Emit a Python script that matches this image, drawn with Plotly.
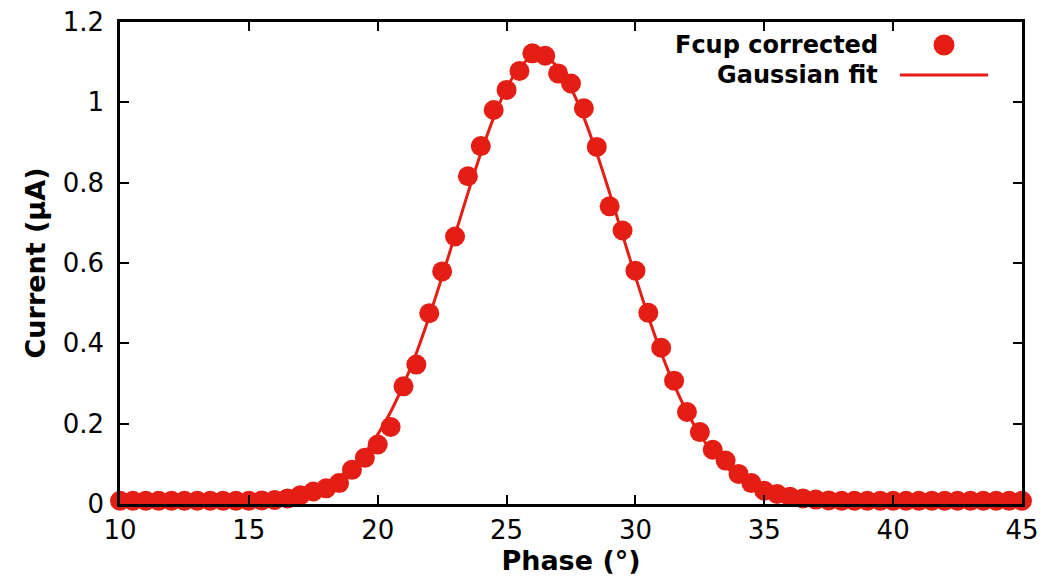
import plotly.graph_objects as go

# ---- data ----
phase = [10.0, 10.5, 11.0, 11.5, 12.0, 12.5, 13.0, 13.5, 14.0, 14.5,
         15.0, 15.5, 16.0, 16.5, 17.0, 17.5, 18.0, 18.5, 19.0, 19.5,
         20.0, 20.5, 21.0, 21.5, 22.0, 22.5, 23.0, 23.5, 24.0, 24.5,
         25.0, 25.5, 26.0, 26.5, 27.0, 27.5, 28.0, 28.5, 29.0, 29.5,
         30.0, 30.5, 31.0, 31.5, 32.0, 32.5, 33.0, 33.5, 34.0, 34.5,
         35.0, 35.5, 36.0, 36.5, 37.0, 37.5, 38.0, 38.5, 39.0, 39.5,
         40.0, 40.5, 41.0, 41.5, 42.0, 42.5, 43.0, 43.5, 44.0, 44.5, 45.0]

fcup_corrected = [0.008, 0.008, 0.008, 0.008, 0.008, 0.008, 0.008, 0.008, 0.008, 0.008,
                  0.008, 0.009, 0.010, 0.014, 0.022, 0.031, 0.039, 0.052, 0.085, 0.115,
                  0.148, 0.192, 0.293, 0.347, 0.475, 0.579, 0.666, 0.816, 0.891, 0.981,
                  1.031, 1.078, 1.122, 1.116, 1.072, 1.047, 0.985, 0.889, 0.741, 0.681,
                  0.581, 0.476, 0.389, 0.307, 0.229, 0.179, 0.135, 0.108, 0.075, 0.052,
                  0.033, 0.025, 0.018, 0.014, 0.011, 0.009, 0.008, 0.008, 0.008, 0.008,
                  0.008, 0.008, 0.008, 0.008, 0.008, 0.008, 0.008, 0.008, 0.008, 0.008, 0.008]

gaussian_fit = [0.008, 0.008, 0.008, 0.008, 0.008, 0.008, 0.008, 0.008, 0.009, 0.009,
                0.010, 0.012, 0.015, 0.019, 0.025, 0.034, 0.048, 0.067, 0.093, 0.128,
                0.173, 0.229, 0.297, 0.376, 0.467, 0.566, 0.670, 0.774, 0.873, 0.962,
                1.035, 1.086, 1.113, 1.113, 1.086, 1.035, 0.962, 0.873, 0.774, 0.670,
                0.566, 0.467, 0.376, 0.297, 0.229, 0.173, 0.128, 0.093, 0.067, 0.048,
                0.034, 0.025, 0.019, 0.015, 0.012, 0.010, 0.009, 0.009, 0.008, 0.008,
                0.008, 0.008, 0.008, 0.008, 0.008, 0.008, 0.008, 0.008, 0.008, 0.008, 0.008]

x_ticks = [10, 15, 20, 25, 30, 35, 40, 45]
y_ticks = [0, 0.2, 0.4, 0.6, 0.8, 1.0, 1.2]
y_tick_text = ["0", "0.2", "0.4", "0.6", "0.8", "1", "1.2"]

RED = "#e41e14"
FONT = "DejaVu Sans"

fig = go.Figure()
fig.add_trace(go.Scatter(
    x=phase, y=fcup_corrected, mode="markers", name="Fcup corrected",
    marker=dict(color=RED, size=20, line=dict(width=0)),
    cliponaxis=False, showlegend=False))
fig.add_trace(go.Scatter(
    x=phase, y=gaussian_fit, mode="lines", name="Gaussian fit",
    line=dict(color=RED, width=3, shape="spline", smoothing=0.8),
    cliponaxis=False, showlegend=False))

# page has an ~8px body margin, so the figure is placed 8px in from top-left
OFF = 8
W, H = 1051 - OFF, 579 - OFF
ml, mr, mt, mb = 120 - OFF, 29, 22 - OFF, 75
pw, ph = W - ml - mr, H - mt - mb

def px2paper(px, py):
    # px, py are window pixel coordinates
    return (px - OFF - ml) / pw, 1 - (py - OFF - mt) / ph

# legend (gnuplot style: text right-aligned, key sample on the right)
legend_items = [("Fcup corrected", 45), ("Gaussian fit", 75)]
annotations = []
for label, py in legend_items:
    ax, ay = px2paper(880, py)
    annotations.append(dict(
        x=ax, y=ay, xref="paper", yref="paper", text=f"<b>{label}</b>",
        showarrow=False, xanchor="right", yanchor="middle",
        font=dict(family=FONT, size=24, color="black")))

cx, cy = px2paper(944, 45)
r = 10.5
shapes = [
    dict(type="circle", xref="paper", yref="paper",
         x0=cx - r / pw, x1=cx + r / pw, y0=cy - r / ph, y1=cy + r / ph,
         fillcolor=RED, line=dict(width=0)),
]
lx0, ly = px2paper(900, 75)
lx1, _ = px2paper(988, 75)
shapes.append(dict(type="line", xref="paper", yref="paper",
                   x0=lx0, x1=lx1, y0=ly, y1=ly,
                   line=dict(color=RED, width=3)))

axis_common = dict(
    showline=True, linecolor="black", linewidth=2.5, mirror="ticks",
    ticks="inside", ticklen=9, tickwidth=2, tickcolor="black",
    showgrid=False, zeroline=False, automargin=False,
    ticklabeloverflow="allow",
    tickfont=dict(family=FONT, size=26, color="black"),
)

fig.update_layout(
    width=W, height=H,
    margin=dict(l=ml, r=mr, t=mt, b=mb),
    paper_bgcolor="white", plot_bgcolor="white",
    font=dict(family=FONT, color="black"),
    xaxis=dict(range=[10, 45], tickvals=x_ticks, ticklabelstandoff=1,
               title=dict(text="<b>Phase (°)</b>", standoff=0,
                          font=dict(family=FONT, size=27, color="black")),
               **axis_common),
    yaxis=dict(range=[0, 1.2], tickvals=y_ticks, ticktext=y_tick_text,
               ticklabelstandoff=8,
               title=dict(text="<b>Current (µA)</b>", standoff=10,
                          font=dict(family=FONT, size=27, color="black")),
               **axis_common),
    annotations=annotations,
    shapes=shapes,
)

fig.write_html("out.html")
